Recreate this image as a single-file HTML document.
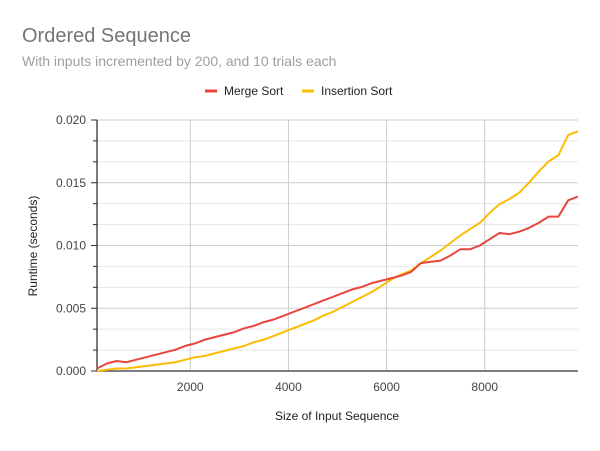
<!DOCTYPE html>
<html><head><meta charset="utf-8"><style>
body{margin:0;background:#fff;font-family:"Liberation Sans",Arial,sans-serif;}
svg text{font-family:"Liberation Sans",Arial,sans-serif;}
</style></head><body>
<svg id="chart" width="600" height="446">
<rect width="600" height="446" fill="#fff"/>
<text x="22" y="42" font-size="20" fill="#757575">Ordered Sequence</text>
<text x="22" y="66" font-size="14" fill="#9e9e9e">With inputs incremented by 200, and 10 trials each</text>
<g>
<g><line x1="205" y1="91" x2="217" y2="91" stroke="#e8453c" stroke-width="3"/><text x="224" y="95" font-size="12" fill="#222">Merge Sort</text></g>
<g><line x1="302" y1="91" x2="314" y2="91" stroke="#fbbc04" stroke-width="3"/><text x="321" y="95" font-size="12" fill="#222">Insertion Sort</text></g>
</g>
<g id="grid"></g><g id="axes"></g><g id="series"></g>
<text x="337" y="420" font-size="12" fill="#222" text-anchor="middle">Size of Input Sequence</text>
<text x="0" y="0" font-size="12" fill="#222" text-anchor="middle" transform="translate(37,246) rotate(-90)">Runtime (seconds)</text>
</svg>
<script>
const xValues=[];for(let v=100;v<=9900;v+=200)xValues.push(v);
const mergeSort=[0.0002,0.0006,0.0008,0.0007,0.0009,0.0011,0.0013,0.0015,0.0017,0.0020,0.0022,0.0025,0.0027,0.0029,0.0031,0.0034,0.0036,0.0039,0.0041,0.0044,0.0047,0.0050,0.0053,0.0056,0.0059,0.0062,0.0065,0.0067,0.0070,0.0072,0.0074,0.0076,0.0079,0.0086,0.0087,0.0088,0.0092,0.0097,0.0097,0.0100,0.0105,0.0110,0.0109,0.0111,0.0114,0.0118,0.0123,0.0123,0.0136,0.0139];
const insertionSort=[0.0000,0.0001,0.0002,0.0002,0.0003,0.0004,0.0005,0.0006,0.0007,0.0009,0.0011,0.0012,0.0014,0.0016,0.0018,0.0020,0.0023,0.0025,0.0028,0.0031,0.0034,0.0037,0.0040,0.0044,0.0047,0.0051,0.0055,0.0059,0.0063,0.0068,0.0073,0.0077,0.0080,0.0086,0.0091,0.0096,0.0102,0.0108,0.0113,0.0118,0.0126,0.0133,0.0137,0.0142,0.0150,0.0159,0.0167,0.0172,0.0188,0.0191];
const yTicks=[0,0.005,0.010,0.015,0.020];
const yTickLabels=["0.000","0.005","0.010","0.015","0.020"];
const xTicks=[2000,4000,6000,8000];
const xTickLabels=["2000","4000","6000","8000"];
const NS="http://www.w3.org/2000/svg";
const X0=97,X1=578,Y0=371,Y1=120,xMin=100,xMax=9900,yMax=0.020;
const sx=v=>X0+(v-xMin)/(xMax-xMin)*(X1-X0);
const sy=v=>Y0-v/yMax*(Y0-Y1);
function mk(tag,attrs,parent){const e=document.createElementNS(NS,tag);for(const k in attrs)e.setAttribute(k,attrs[k]);parent.appendChild(e);return e;}
const grid=document.getElementById('grid'),axes=document.getElementById('axes'),series=document.getElementById('series');
// minor lines
for(let i=0;i<4;i++){for(let j=1;j<3;j++){const v=yTicks[i]+(yTicks[i+1]-yTicks[i])*j/3;
const l=mk('line',{x1:X0-4,x2:X1,y1:sy(v),y2:sy(v),stroke:'#e6e6e6','stroke-width':1},grid);


mk('line',{x1:X0-4,x2:X0,y1:sy(v),y2:sy(v),stroke:'#333','stroke-width':1},axes);}}
yTicks.forEach((v,i)=>{
const l=mk('line',{x1:X0-6,x2:X1,y1:sy(v),y2:sy(v),stroke:'#cccccc','stroke-width':1},grid);


mk('line',{x1:X0-6,x2:X0,y1:sy(v),y2:sy(v),stroke:'#333','stroke-width':1},axes);
const t=mk('text',{x:X0-11,y:sy(v)+4,'font-size':12,fill:'#444','text-anchor':'end'},axes);
t.textContent=yTickLabels[i];


});
xTicks.forEach((v,i)=>{
const l=mk('line',{x1:sx(v),x2:sx(v),y1:Y1,y2:Y0,stroke:'#cccccc','stroke-width':1},grid);


const t=mk('text',{x:sx(v),y:Y0+20,'font-size':12,fill:'#444','text-anchor':'middle'},axes);
t.textContent=xTickLabels[i];


});
const ya=mk('line',{x1:X0,x2:X0,y1:Y1,y2:Y0,stroke:'#222','stroke-width':1.2},axes);


const xa=mk('line',{x1:X0,x2:X1,y1:Y0,y2:Y0,stroke:'#333','stroke-width':1.2},axes);


function line(vals,color,name){
const p=mk('polyline',{points:vals.map((v,i)=>sx(xValues[i]).toFixed(1)+','+sy(v).toFixed(1)).join(' '),fill:'none',stroke:color,'stroke-width':2,'stroke-linejoin':'round'},series);


}
line(insertionSort,'#fbbc04','insertion-sort-line');
line(mergeSort,'#e8453c','merge-sort-line');
</script>
</body></html>
